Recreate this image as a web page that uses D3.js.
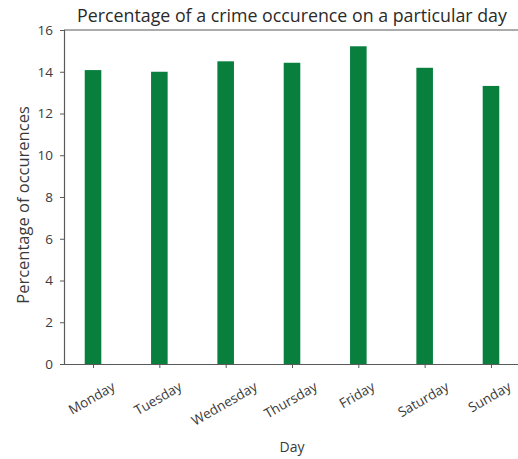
<!DOCTYPE html>
<html>
<head>
<meta charset="utf-8">
<script src="https://cdn.jsdelivr.net/npm/d3@7"></script>
<style>
  html, body { margin: 0; padding: 0; background: #fff; overflow: hidden; }
  svg { display: block; }
  text { font-family: "Open Sans", "Noto Sans", sans-serif; }
</style>
</head>
<body>
<svg id="chart" width="518" height="459"></svg>
<script>
// Share of crimes falling on each day of the week (%)
const days = ["Monday", "Tuesday", "Wednesday", "Thursday", "Friday", "Saturday", "Sunday"];
const percentages = [14.08, 14.0, 14.5, 14.43, 15.22, 14.19, 13.32];
const yTicks = [0, 2, 4, 6, 8, 10, 12, 14, 16];

const svg = d3.select("#chart");
const margin = { left: 64, top: 30, right: -2, bottom: 95 };
const W = 518, H = 459;
const plotW = W - margin.left - margin.right;
const plotH = H - margin.top - margin.bottom;

// Numeric x positions (0..6) with a bar width of 0.25 and 5% padding on each side
const barW = 0.25;
const lo = -barW / 2, hi = days.length - 1 + barW / 2;
const pad = (hi - lo) * 0.05;
const x = d3.scaleLinear().domain([lo - pad, hi + pad]).range([0, plotW]);
const y = d3.scaleLinear().domain([0, 16]).range([plotH, 0]);

const g = svg.append("g").attr("transform", `translate(${margin.left},${margin.top})`);

// Bars
g.selectAll("rect.bar")
  .data(percentages)
  .join("rect")
  .attr("class", "bar")
  .attr("x", (d, i) => x(i - barW / 2))
  .attr("width", x(barW) - x(0))
  .attr("y", d => y(d))
  .attr("height", d => y(0) - y(d))
  .attr("fill", "#087f3d");

// Top spine (the right edge of the frame lies beyond the page)
const spine = "#5a5a5a";
g.append("line").attr("x1", 0).attr("x2", plotW).attr("y1", 0).attr("y2", 0)
  .attr("stroke", spine).attr("stroke-width", 1.2);

const tickFont = 13.5;

// Y axis
const yAxis = g.append("g")
  .call(d3.axisLeft(y).tickValues(yTicks).tickFormat(d3.format("d")).tickSize(4).tickPadding(7));
yAxis.select(".domain").attr("stroke", spine).attr("stroke-width", 1.2);
yAxis.selectAll(".tick line").attr("stroke", spine);
yAxis.selectAll(".tick text").attr("fill", "#3a3a3a").attr("font-size", tickFont)
  .attr("font-family", "'Open Sans', 'Noto Sans', sans-serif");

// X axis with day labels rotated 30°, hung from the tick by their top edge
const xAxis = g.append("g")
  .attr("transform", `translate(0,${plotH})`)
  .call(d3.axisBottom(x).tickValues(d3.range(days.length)).tickFormat(i => days[i]).tickSize(4).tickSizeOuter(0));
xAxis.select(".domain").attr("stroke", spine).attr("stroke-width", 1.2);
xAxis.selectAll(".tick line").attr("stroke", spine);
const sin30 = 0.5, cos30 = Math.sqrt(3) / 2;
xAxis.selectAll(".tick text")
  .attr("fill", "#3a3a3a").attr("font-size", tickFont)
  .attr("font-family", "'Open Sans', 'Noto Sans', sans-serif")
  .attr("text-anchor", "middle")
  .attr("dy", null)
  .attr("y", 0)
  .attr("dominant-baseline", "central")
  .each(function () {
    const w = this.getComputedTextLength();
    const h = tickFont * 1.05;
    const boxH = w * sin30 + h * cos30;
    d3.select(this).attr("transform", `translate(-2,${15 + boxH / 2}) rotate(-30)`);
  });

// Title and axis labels
svg.append("text")
  .attr("x", 292).attr("y", 22)
  .attr("text-anchor", "middle").attr("font-size", 17.8).attr("fill", "#2a2a2a")
  .text("Percentage of a crime occurence on a particular day");

svg.append("text")
  .attr("x", margin.left + 228).attr("y", 452)
  .attr("text-anchor", "middle").attr("font-size", 14).attr("fill", "#3a3a3a")
  .text("Day");

svg.append("text")
  .attr("transform", `translate(29,205) rotate(-90)`)
  .attr("text-anchor", "middle").attr("font-size", 16.5).attr("fill", "#3a3a3a")
  .text("Percentage of occurences");
</script>
</body>
</html>
